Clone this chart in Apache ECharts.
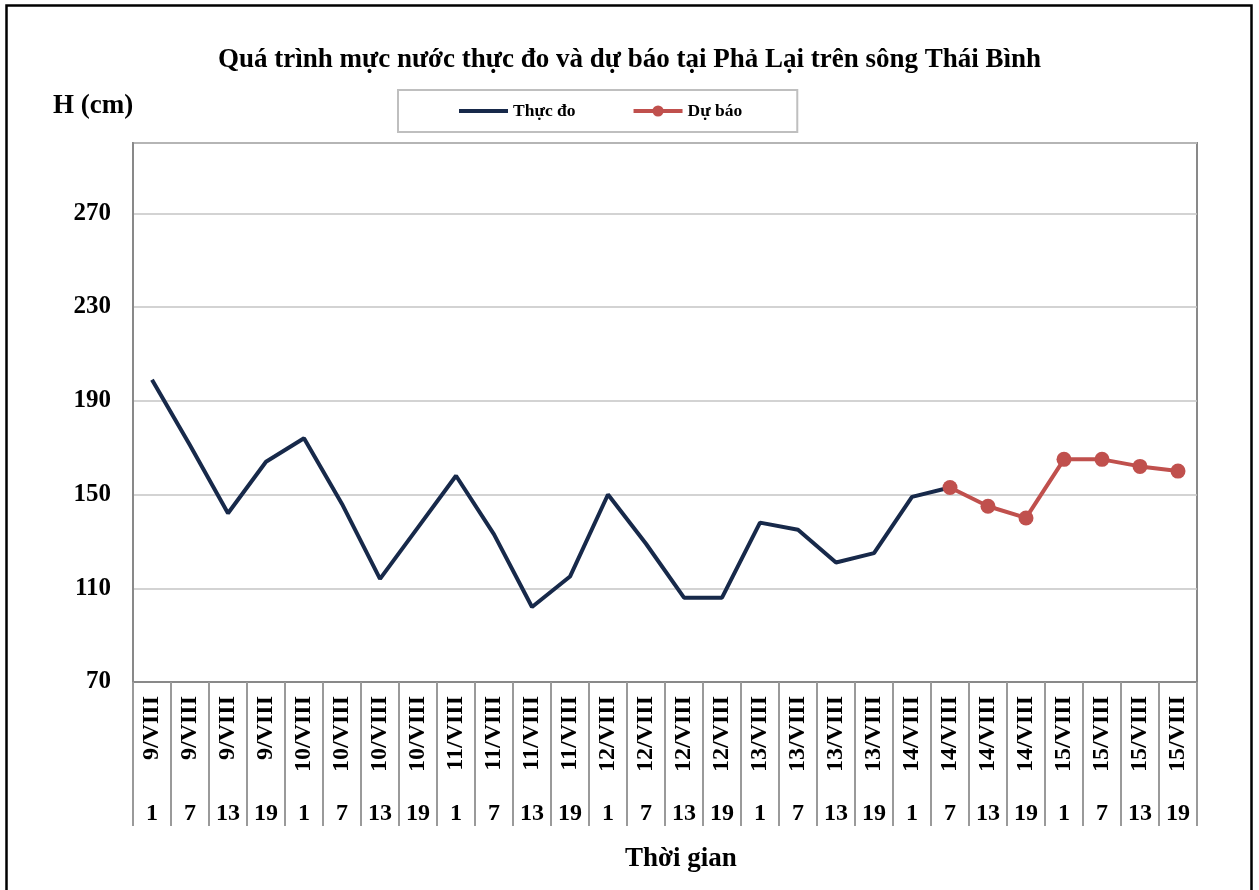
<!DOCTYPE html>
<html><head><meta charset="utf-8">
<script src="https://cdn.jsdelivr.net/npm/echarts@6/dist/echarts.min.js"></script>
<style>html,body{margin:0;padding:0;background:#fff}#c{width:1259px;height:890px}</style>
</head><body><div id="c"></div>
<script>
const dayLabels = ['9/VIII','9/VIII','9/VIII','9/VIII','10/VIII','10/VIII','10/VIII','10/VIII','11/VIII','11/VIII','11/VIII','11/VIII','12/VIII','12/VIII','12/VIII','12/VIII','13/VIII','13/VIII','13/VIII','13/VIII','14/VIII','14/VIII','14/VIII','14/VIII','15/VIII','15/VIII','15/VIII','15/VIII'];
const hourLabels = ['1','7','13','19','1','7','13','19','1','7','13','19','1','7','13','19','1','7','13','19','1','7','13','19','1','7','13','19'];
const observed = [199,171,142,164,174,146,114,136,158,133,102,115,150,129,106,106,138,135,121,125,149,153,null,null,null,null,null,null];
const forecast = [null,null,null,null,null,null,null,null,null,null,null,null,null,null,null,null,null,null,null,null,null,153,145,140,165,165,162,160];
const seriesNames = ['Thực đo','Dự báo'];
const titleText = 'Quá trình mực nước thực đo và dự báo tại Phả Lại trên sông Thái Bình';
const yName = 'H (cm)';
const xName = 'Thời gian';

const F = 'Liberation Serif, Times New Roman, serif';
const chart = echarts.init(document.getElementById('c'), null, {renderer:'canvas'});
chart.setOption({
  backgroundColor:'#fff',
  animation:false,
  title:{text:titleText, left:'center', top:42, textStyle:{fontFamily:F, fontWeight:'bold', fontSize:27, color:'#000'}},
  legend:{
    left:398, top:90, padding:[12,55,12,59], itemGap:56, itemWidth:49, itemHeight:14,
    borderColor:'#bfbfbf', borderWidth:2,
    lineStyle:{width:4},
    textStyle:{fontFamily:F, fontWeight:'bold', fontSize:17.5, color:'#000'},
    data:[{name:seriesNames[0], itemStyle:{opacity:0}}, {name:seriesNames[1]}]
  },
  graphic:[
    {type:'rect', shape:{x:6.5,y:5.5,width:1245,height:920}, style:{fill:'none', stroke:'#000', lineWidth:2.5}, silent:true},
    {type:'text', left:53, top:93, style:{text:yName, font:'bold 27px '+F, fill:'#000'}},
    {type:'text', left:625, top:846, style:{text:xName, font:'bold 27px '+F, fill:'#000'}}
  ],
  grid:{left:133, right:62, top:143, bottom:208, show:true, borderColor:'#898989', borderWidth:2},
  xAxis:[
    {type:'category', data:dayLabels, boundaryGap:true,
     axisLine:{lineStyle:{color:'#898989', width:2}},
     axisTick:{show:true, interval:0, length:144, lineStyle:{color:'#9a9a9a', width:2}},
     axisLabel:{interval:0, rotate:90, margin:14, fontFamily:F, fontWeight:'bold', fontSize:24, color:'#000'}
    },
    {type:'category', data:hourLabels, boundaryGap:true, position:'bottom', offset:110,
     axisLine:{show:false}, axisTick:{show:false},
     axisLabel:{interval:0, margin:10, fontFamily:F, fontWeight:'bold', fontSize:24, color:'#000'}
    }
  ],
  yAxis:{type:'value', min:70, max:300, interval:40,
    axisLine:{show:true, lineStyle:{color:'#898989', width:2}},
    axisTick:{show:false},
    splitLine:{lineStyle:{color:'#c4c4c4', width:1.5}},
    axisLabel:{showMaxLabel:false, margin:22, fontFamily:F, fontWeight:'bold', fontSize:25, color:'#000'}
  },
  series:[
    {name:seriesNames[0], type:'line', data:observed, xAxisIndex:0, symbol:'none', connectNulls:false,
     lineStyle:{color:'#17294a', width:4}, itemStyle:{color:'#17294a'}, z:2},
    {name:seriesNames[1], type:'line', data:forecast, xAxisIndex:0, symbol:'circle', symbolSize:15,
     lineStyle:{color:'#c0504d', width:4}, itemStyle:{color:'#c0504d'}, z:3}
  ]
});
</script></body></html>
